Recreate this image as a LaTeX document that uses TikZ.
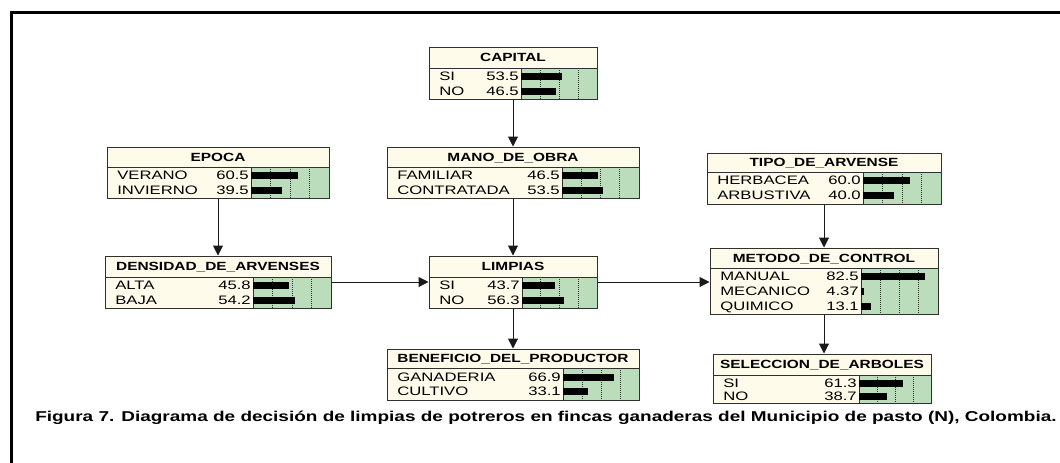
\documentclass[tikz,border=0pt]{standalone}
\usepackage{fontspec}
\setmainfont{Liberation Sans}[FakeStretch=1.3]
\newfontfamily\bodyfont{Liberation Sans}[FakeStretch=1.36]
\newfontfamily\capfont{Liberation Sans}[FakeStretch=1.33]
\usetikzlibrary{arrows.meta,fit}
\definecolor{cream}{HTML}{FFFBEA}
\definecolor{bargreen}{HTML}{BCDDBC}
\definecolor{edgecol}{HTML}{303030}
\tikzset{
  titletext/.style={font=\bfseries\fontsize{8.9pt}{9pt}\selectfont, inner sep=0pt, text height=6.4pt, text depth=0pt},
  rowtext/.style={font=\bodyfont\fontsize{9.2pt}{10pt}\selectfont, inner sep=0pt, text height=6.6pt, text depth=0pt},
  gridline/.style={edgecol, densely dotted, line width=0.5pt},
  boxframe/.style={inner sep=0pt, draw=edgecol, line width=0.75pt},
  arr/.style={draw=black!90, line width=0.75pt, -{Triangle[length=7.5pt,width=7.5pt]}},
  captext/.style={font=\capfont\bfseries\fontsize{10.7pt}{12pt}\selectfont, inner sep=0pt}
}
% #1 name, #2 xl, #3 ytop, #4 xr, #5 ysep, #6 ybottom, #7 xbar, #8 title
\newcommand\bnbox[8]{%
  \fill[cream] (#2,#3) rectangle (#4,#6);
  \fill[bargreen] (#7,#5) rectangle (#4,#6);
  \foreach \f in {0.25,0.5,0.75} {\draw[gridline] ({#7+\f*(#4-#7)},#5) -- ({#7+\f*(#4-#7)},#6);}
  \draw[edgecol, line width=0.75pt] (#2,#5) -- (#4,#5);
  \draw[edgecol, line width=0.5pt] (#7,#5) -- (#7,#6);
  \node[boxframe, fit={(#2,#3) (#4,#6)}] (#1) {};
  \node[titletext] (#1-t) at ({(#2+#4)/2},{(#3+#5)/2}) {#8};
}
% #1 name, #2 xl, #3 xbar, #4 xr, #5 y, #6 label, #7 value, #8 percent
\newcommand\bnrow[8]{%
  \node[rowtext, anchor=west] (#1-l) at ({#2+10},#5) {#6};
  \node[rowtext, anchor=east] (#1-v) at ({#3-2},#5) {#7};
  \fill[black] (#3,{#5-3.5}) rectangle ({#3+#8/100*(#4-#3)},{#5+3.5});
}
\begin{document}
\begin{tikzpicture}[x=0.75pt,y=-0.75pt]
\useasboundingbox (0,0) rectangle (1060,462);
\clip (0,0) rectangle (1060,462);
\fill[white] (0,0) rectangle (1060,462);
\draw[line width=2.25pt] (11,470) -- (11,12) -- (1070,12);

% CAPITAL
\bnbox{capital}{429}{47}{597}{68}{99}{521}{CAPITAL}
\bnrow{capital-si}{429}{521}{597}{76.5}{SI}{53.5}{53.5}
\bnrow{capital-no}{429}{521}{597}{91.5}{NO}{46.5}{46.5}

% EPOCA
\bnbox{epoca}{107}{147}{329}{167}{198}{251}{EPOCA}
\bnrow{epoca-ve}{107}{251}{329}{175.5}{VERANO}{60.5}{60.5}
\bnrow{epoca-in}{107}{251}{329}{190.5}{INVIERNO}{39.5}{39.5}

% MANO_DE_OBRA
\bnbox{mano}{387}{147}{639}{167}{198}{562}{MANO\_DE\_OBRA}
\bnrow{mano-fa}{387}{562}{639}{175.5}{FAMILIAR}{46.5}{46.5}
\bnrow{mano-co}{387}{562}{639}{190.5}{CONTRATADA}{53.5}{53.5}

% TIPO_DE_ARVENSE
\bnbox{tipo}{707}{153}{941}{172}{204}{863}{TIPO\_DE\_ARVENSE}
\bnrow{tipo-he}{707}{863}{941}{180.5}{HERBACEA}{60.0}{60.0}
\bnrow{tipo-ar}{707}{863}{941}{195.5}{ARBUSTIVA}{40.0}{40.0}

% DENSIDAD_DE_ARVENSES
\bnbox{densidad}{105}{256}{331}{277}{308}{253}{DENSIDAD\_DE\_ARVENSES}
\bnrow{densidad-al}{105}{253}{331}{285.5}{ALTA}{45.8}{45.8}
\bnrow{densidad-ba}{105}{253}{331}{300.5}{BAJA}{54.2}{54.2}

% LIMPIAS
\bnbox{limpias}{429}{256}{597}{277}{308}{522}{LIMPIAS}
\bnrow{limpias-si}{429}{522}{597}{285.5}{SI}{43.7}{43.7}
\bnrow{limpias-no}{429}{522}{597}{300.5}{NO}{56.3}{56.3}

% METODO_DE_CONTROL
\bnbox{metodo}{710}{248}{938}{268}{314}{861}{METODO\_DE\_CONTROL}
\bnrow{metodo-ma}{710}{861}{938}{276}{MANUAL}{82.5}{82.5}
\bnrow{metodo-me}{710}{861}{938}{291}{MECANICO}{4.37}{4.37}
\bnrow{metodo-qu}{710}{861}{938}{306}{QUIMICO}{13.1}{13.1}

% BENEFICIO_DEL_PRODUCTOR
\bnbox{beneficio}{387}{349}{639}{368}{400}{563}{BENEFICIO\_DEL\_PRODUCTOR}
\bnrow{beneficio-ga}{387}{563}{639}{377}{GANADERIA}{66.9}{66.9}
\bnrow{beneficio-cu}{387}{563}{639}{391.5}{CULTIVO}{33.1}{33.1}

% SELECCION_DE_ARBOLES
\bnbox{seleccion}{713}{354}{931}{375}{403}{859}{SELECCION\_DE\_ARBOLES}
\bnrow{seleccion-si}{713}{859}{931}{383}{SI}{61.3}{61.3}
\bnrow{seleccion-no}{713}{859}{931}{396.5}{NO}{38.7}{38.7}

% connectors
\draw[arr] (capital.south) -- (mano.north);
\draw[arr] (epoca.south) -- (densidad.north);
\draw[arr] (mano.south) -- (limpias.north);
\draw[arr] (limpias.south) -- (beneficio.north);
\draw[arr] (densidad.east) -- (limpias.west);
\draw[arr] (limpias.east) -- (limpias.east -| metodo.west);
\draw[arr] (tipo.south) -- (metodo.north);
\draw[arr] (metodo.south) -- (metodo.south |- seleccion.north);

% caption
\node[captext, anchor=base west] (caption) at (35,421) {Figura 7. Diagrama de decisión de limpias de potreros en fincas ganaderas del Municipio de pasto (N), Colombia.};
\end{tikzpicture}
\end{document}
